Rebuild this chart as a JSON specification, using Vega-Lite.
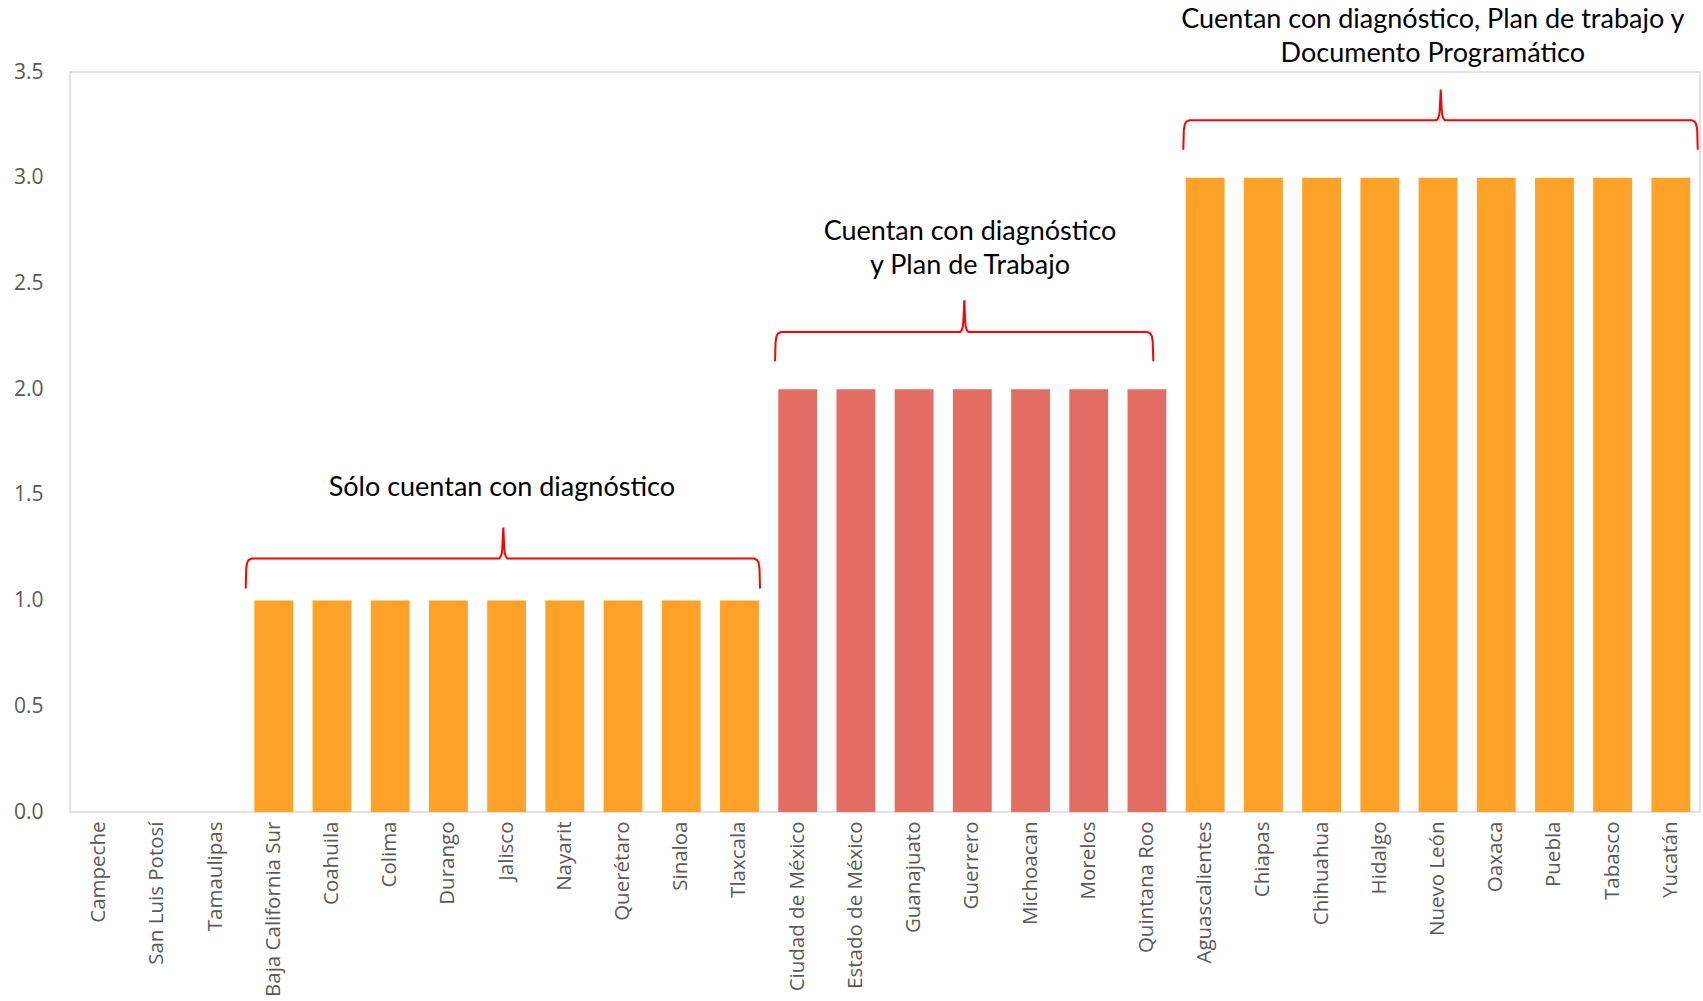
{
  "$schema": "https://vega.github.io/schema/vega-lite/v6.json",
  "autosize": {"type": "none"},
  "width": 1630,
  "height": 740,
  "padding": {"left": 70, "top": 72, "right": 3, "bottom": 189},
  "background": "#ffffff",
  "config": {
    "view": {"stroke": "#d9d9d9", "strokeWidth": 1.5},
    "font": "Open Sans"
  },
  "datasets": {
    "estados": [
      {"estado": "Campeche", "valor": 0},
      {"estado": "San Luis Potosí", "valor": 0},
      {"estado": "Tamaulipas", "valor": 0},
      {"estado": "Baja California Sur", "valor": 1},
      {"estado": "Coahuila", "valor": 1},
      {"estado": "Colima", "valor": 1},
      {"estado": "Durango", "valor": 1},
      {"estado": "Jalisco", "valor": 1},
      {"estado": "Nayarit", "valor": 1},
      {"estado": "Querétaro", "valor": 1},
      {"estado": "Sinaloa", "valor": 1},
      {"estado": "Tlaxcala", "valor": 1},
      {"estado": "Ciudad de México", "valor": 2},
      {"estado": "Estado de México", "valor": 2},
      {"estado": "Guanajuato", "valor": 2},
      {"estado": "Guerrero", "valor": 2},
      {"estado": "Michoacan", "valor": 2},
      {"estado": "Morelos", "valor": 2},
      {"estado": "Quintana Roo", "valor": 2},
      {"estado": "Aguascalientes", "valor": 3},
      {"estado": "Chiapas", "valor": 3},
      {"estado": "Chihuahua", "valor": 3},
      {"estado": "Hidalgo", "valor": 3},
      {"estado": "Nuevo León", "valor": 3},
      {"estado": "Oaxaca", "valor": 3},
      {"estado": "Puebla", "valor": 3},
      {"estado": "Tabasco", "valor": 3},
      {"estado": "Yucatán", "valor": 3}
    ],
    "llaves": [
      {"llave": 1, "i": 1, "x": 3.018, "y": 1.057},
      {"llave": 1, "i": 2, "x": 3.027, "y": 1.152},
      {"llave": 1, "i": 3, "x": 3.044, "y": 1.180},
      {"llave": 1, "i": 4, "x": 3.070, "y": 1.192},
      {"llave": 1, "i": 5, "x": 3.121, "y": 1.199},
      {"llave": 1, "i": 6, "x": 7.374, "y": 1.199},
      {"llave": 1, "i": 7, "x": 7.400, "y": 1.209},
      {"llave": 1, "i": 8, "x": 7.417, "y": 1.223},
      {"llave": 1, "i": 9, "x": 7.426, "y": 1.246},
      {"llave": 1, "i": 10, "x": 7.443, "y": 1.345},
      {"llave": 1, "i": 11, "x": 7.460, "y": 1.246},
      {"llave": 1, "i": 12, "x": 7.469, "y": 1.223},
      {"llave": 1, "i": 13, "x": 7.486, "y": 1.209},
      {"llave": 1, "i": 14, "x": 7.512, "y": 1.199},
      {"llave": 1, "i": 15, "x": 11.750, "y": 1.199},
      {"llave": 1, "i": 16, "x": 11.802, "y": 1.192},
      {"llave": 1, "i": 17, "x": 11.827, "y": 1.180},
      {"llave": 1, "i": 18, "x": 11.844, "y": 1.152},
      {"llave": 1, "i": 19, "x": 11.853, "y": 1.057},
      {"llave": 2, "i": 1, "x": 12.111, "y": 2.132},
      {"llave": 2, "i": 2, "x": 12.120, "y": 2.223},
      {"llave": 2, "i": 3, "x": 12.137, "y": 2.251},
      {"llave": 2, "i": 4, "x": 12.163, "y": 2.263},
      {"llave": 2, "i": 5, "x": 12.214, "y": 2.270},
      {"llave": 2, "i": 6, "x": 15.293, "y": 2.270},
      {"llave": 2, "i": 7, "x": 15.319, "y": 2.280},
      {"llave": 2, "i": 8, "x": 15.336, "y": 2.294},
      {"llave": 2, "i": 9, "x": 15.345, "y": 2.317},
      {"llave": 2, "i": 10, "x": 15.362, "y": 2.420},
      {"llave": 2, "i": 11, "x": 15.379, "y": 2.317},
      {"llave": 2, "i": 12, "x": 15.388, "y": 2.294},
      {"llave": 2, "i": 13, "x": 15.405, "y": 2.280},
      {"llave": 2, "i": 14, "x": 15.431, "y": 2.270},
      {"llave": 2, "i": 15, "x": 18.506, "y": 2.270},
      {"llave": 2, "i": 16, "x": 18.558, "y": 2.263},
      {"llave": 2, "i": 17, "x": 18.583, "y": 2.251},
      {"llave": 2, "i": 18, "x": 18.600, "y": 2.223},
      {"llave": 2, "i": 19, "x": 18.609, "y": 2.132},
      {"llave": 3, "i": 1, "x": 19.124, "y": 3.132},
      {"llave": 3, "i": 2, "x": 19.133, "y": 3.225},
      {"llave": 3, "i": 3, "x": 19.150, "y": 3.253},
      {"llave": 3, "i": 4, "x": 19.176, "y": 3.265},
      {"llave": 3, "i": 5, "x": 19.227, "y": 3.272},
      {"llave": 3, "i": 6, "x": 23.477, "y": 3.272},
      {"llave": 3, "i": 7, "x": 23.503, "y": 3.282},
      {"llave": 3, "i": 8, "x": 23.520, "y": 3.296},
      {"llave": 3, "i": 9, "x": 23.529, "y": 3.319},
      {"llave": 3, "i": 10, "x": 23.546, "y": 3.417},
      {"llave": 3, "i": 11, "x": 23.563, "y": 3.319},
      {"llave": 3, "i": 12, "x": 23.572, "y": 3.296},
      {"llave": 3, "i": 13, "x": 23.589, "y": 3.282},
      {"llave": 3, "i": 14, "x": 23.615, "y": 3.272},
      {"llave": 3, "i": 15, "x": 27.858, "y": 3.272},
      {"llave": 3, "i": 16, "x": 27.910, "y": 3.265},
      {"llave": 3, "i": 17, "x": 27.935, "y": 3.253},
      {"llave": 3, "i": 18, "x": 27.952, "y": 3.225},
      {"llave": 3, "i": 19, "x": 27.961, "y": 3.132}
    ],
    "textos": [
      {"texto": "Sólo cuentan con diagnóstico", "x": 7.418, "y": 1.533},
      {"texto": "Cuentan con diagnóstico\ny Plan de Trabajo", "x": 15.46, "y": 2.745},
      {"texto": "Cuentan con diagnóstico, Plan de trabajo y\nDocumento Programático", "x": 23.41, "y": 3.747}
    ]
  },
  "resolve": {"scale": {"x": "independent"}, "axis": {"x": "independent"}},
  "layer": [
    {
      "data": {"name": "estados"},
      "mark": {"type": "bar"},
      "encoding": {
        "x": {
          "field": "estado", "type": "nominal", "sort": null,
          "scale": {"paddingInner": 0.333, "paddingOuter": 0.1667},
          "axis": {
            "title": null, "labelAngle": 270, "labelFontSize": 20.5,
            "labelColor": "#595959", "labelPadding": 9, "ticks": false,
            "tickSize": 0, "domain": false, "labelFont": "Open Sans"
          }
        },
        "y": {
          "field": "valor", "type": "quantitative",
          "scale": {"domain": [0, 3.5], "nice": false},
          "axis": {
            "title": null, "values": [0, 0.5, 1, 1.5, 2, 2.5, 3, 3.5],
            "format": ".1f", "labelFontSize": 21, "labelColor": "#595959",
            "ticks": false, "tickSize": 0, "labelPadding": 27,
            "domain": false, "grid": false, "labelFont": "Open Sans"
          }
        },
        "color": {
          "field": "valor", "type": "nominal",
          "scale": {"domain": [0, 1, 2, 3], "range": ["#FFA227", "#FFA227", "#E36D63", "#FFA227"]},
          "legend": null
        }
      }
    },
    {
      "data": {"name": "llaves"},
      "mark": {"type": "line", "color": "#FF0000", "strokeWidth": 2, "interpolate": "linear", "clip": false},
      "encoding": {
        "x": {"field": "x", "type": "quantitative", "scale": {"domain": [0, 28], "nice": false, "zero": false}, "axis": null},
        "y": {"field": "y", "type": "quantitative"},
        "detail": {"field": "llave", "type": "nominal"},
        "order": {"field": "i", "type": "quantitative"}
      }
    },
    {
      "data": {"name": "textos"},
      "mark": {"type": "text", "font": "Lato", "fontSize": 27, "color": "#000000", "align": "center", "baseline": "middle", "lineBreak": "\n", "lineHeight": 34},
      "encoding": {
        "x": {"field": "x", "type": "quantitative", "scale": {"domain": [0, 28], "nice": false, "zero": false}, "axis": null},
        "y": {"field": "y", "type": "quantitative"},
        "text": {"field": "texto", "type": "nominal"}
      }
    }
  ]
}
